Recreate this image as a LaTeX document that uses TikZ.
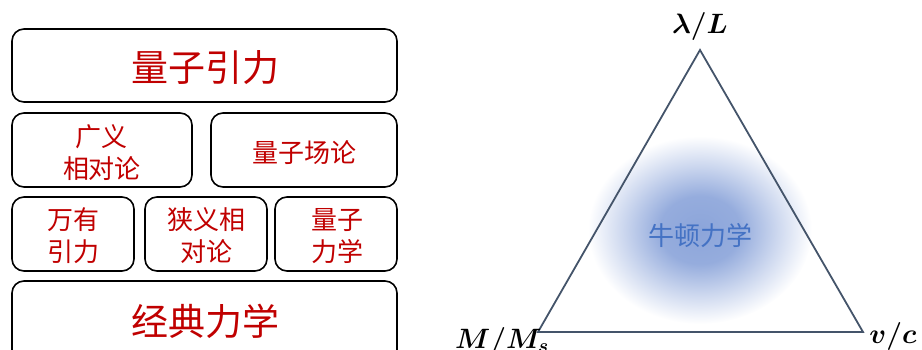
\RequirePackage{fix-cm}
\documentclass[tikz,border=0pt]{standalone}
\usepackage{fontspec}
\usepackage{bm}
\newfontfamily\cjk{Noto Sans CJK SC}
\definecolor{boxred}{RGB}{192,0,0}
\definecolor{triline}{RGB}{68,84,106}
\definecolor{newtonblue}{RGB}{68,114,196}
\definecolor{glowc}{RGB}{140,165,218}
\pgfdeclareradialshading{glow}{\pgfpoint{0bp}{0bp}}{color(0bp)=(glowc); color(9bp)=(glowc!92!white); color(17bp)=(glowc!45!white); color(25bp)=(white); color(50bp)=(white)}
\tikzset{
  theory/.style={draw=black, line width=1.6pt, rounded corners=12pt, inner sep=0pt},
  bigtxt/.style={text=boxred, font=\cjk\fontsize{37}{40}\selectfont},
  midtxt/.style={text=boxred, font=\cjk\fontsize{26}{32}\selectfont, align=center},
  mathlbl/.style={font=\fontsize{28}{32}\selectfont, inner sep=0pt},
}
\begin{document}
\begin{tikzpicture}[x=1pt,y=-1pt]
\useasboundingbox (0,0) rectangle (922,350);
\clip (0,0) rectangle (922,350);
% boxes
\draw[theory] (12,29) rectangle (397,102);
\node[bigtxt] (qg) at (205,68) {量子引力};
\draw[theory] (12,113) rectangle (192,187);
\node[midtxt] (gr) at (102,153) {广义\\相对论};
\draw[theory] (211,113) rectangle (397,187);
\node[midtxt] (qft) at (304,153) {量子场论};
\draw[theory] (12,197) rectangle (134,271);
\node[midtxt] (ng) at (73,236) {万有\\引力};
\draw[theory] (145,197) rectangle (267,271);
\node[midtxt] (sr) at (206,236) {狭义相\\对论};
\draw[theory] (275,197) rectangle (397,271);
\node[midtxt] (qm) at (337,236) {量子\\力学};
\draw[theory] (12,281) rectangle (397,370);
\node[bigtxt] (cm) at (205,321) {经典力学};
% glow
\shade[shading=glow] (700,230) ellipse [x radius=112, y radius=94];
% triangle
\coordinate (top) at (700,50);
\coordinate (bl) at (538,332);
\coordinate (br) at (863,332);
\draw[triline, line width=1.8pt, line join=miter] (top) -- (bl) -- (br) -- cycle;
\node[text=newtonblue, font=\cjk\fontsize{26}{30}\selectfont] (nm) at (700,236) {牛顿力学};
\node[mathlbl] (lam) at (700,27) {$\bm{\lambda/L}$};
\node[mathlbl] (mass) at (502,341) {$\bm{M/M_s}$};
\node[mathlbl] (vel) at (893,336) {$\bm{v/c}$};
\end{tikzpicture}
\end{document}
